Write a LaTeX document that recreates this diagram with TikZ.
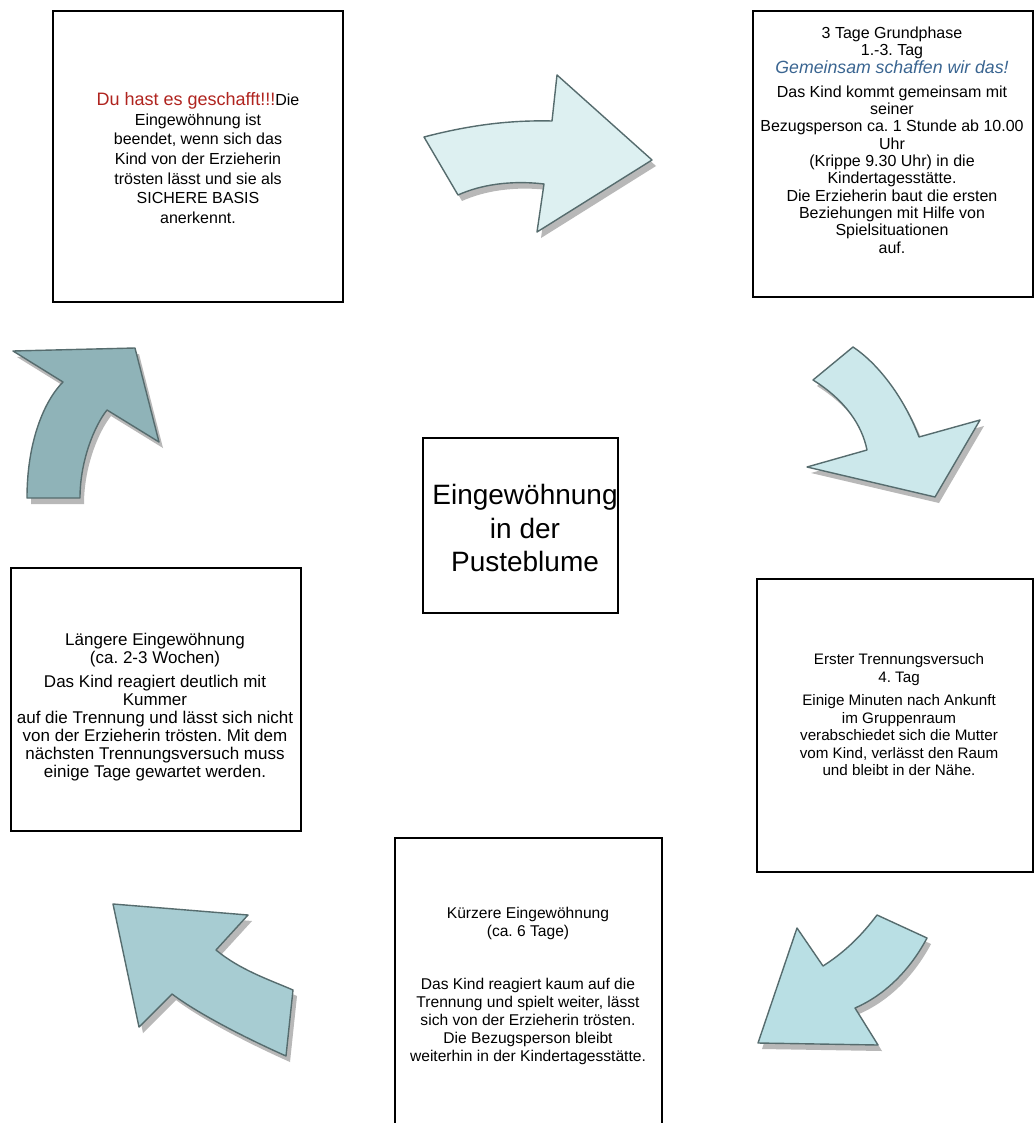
\documentclass[tikz,border=0pt]{standalone}
\usepackage{fontspec}
\setmainfont{Liberation Sans}
\usetikzlibrary{shadows}
\definecolor{darkred}{HTML}{B0241F}
\definecolor{accent}{HTML}{3A6591}
\definecolor{arrline}{HTML}{566C6E}
\definecolor{tintA}{HTML}{DDF0F1}
\definecolor{tintB}{HTML}{CCE8EB}
\definecolor{tintC}{HTML}{B9DFE4}
\definecolor{tintD}{HTML}{A7CCD2}
\definecolor{tintE}{HTML}{8FB3B8}
\frenchspacing

\begin{document}
\begin{tikzpicture}[x=1pt,y=-1pt,
  card/.style={draw=black,line width=1.2pt,fill=white,inner sep=0pt},
  txt/.style={align=center,inner sep=0pt},
  bigarrow/.style={draw=arrline,line width=1.4pt,line join=round,
    drop shadow={shadow xshift=4pt,shadow yshift=-6pt,fill=black!28,opacity=1}}]
  \useasboundingbox[fill=white] (0,0) rectangle (1034,1123);
  \node[card,minimum width=290pt,minimum height=291pt] (done) at (198,156.5) {};
  \node[card,minimum width=280pt,minimum height=286pt] (basis) at (893,154) {};
  \node[card,minimum width=195pt,minimum height=175pt] (title) at (520.5,525.5) {};
  \node[card,minimum width=290pt,minimum height=263pt] (longer) at (156,699.5) {};
  \node[card,minimum width=276pt,minimum height=293pt] (first) at (895,725.5) {};
  \node[card,minimum width=267pt,minimum height=302pt] (shorter) at (528.5,989) {};

  \node[txt,font=\fontsize{16}{19.6}\selectfont] (donetxt) at (198,158)
    {{\color{darkred}\fontsize{18}{19.6}\selectfont Du hast es geschafft!!!}Die\\Eingewöhnung ist\\beendet, wenn sich das\\Kind von der Erzieherin\\trösten lässt und sie als\\SICHERE BASIS\\anerkennt.};
  \node[txt,font=\fontsize{16}{17.3}\selectfont] (basistxt) at (892,140)
    {3 Tage Grundphase\\1.-3. Tag\\{\color{accent}\itshape\fontsize{17.7}{17.3}\selectfont Gemeinsam schaffen wir das!}\\[7pt]Das Kind kommt gemeinsam mit\\seiner\\Bezugsperson ca. 1 Stunde ab 10.00\\Uhr\\(Krippe 9.30 Uhr) in die\\Kindertagesstätte.\\Die Erzieherin baut die ersten\\Beziehungen mit Hilfe von\\Spielsituationen\\auf.};
  \node[txt,font=\fontsize{28}{33.5}\selectfont] (titletxt) at (525,528)
    {Eingewöhnung\\in der\\Pusteblume};
  \node[txt,font=\fontsize{17}{18}\selectfont] (longertxt) at (155,707)
    {Längere Eingewöhnung\\(ca. 2-3 Wochen)\\[6pt]Das Kind reagiert deutlich mit\\Kummer\\auf die Trennung und lässt sich nicht\\von der Erzieherin trösten. Mit dem\\nächsten Trennungsversuch muss\\einige Tage gewartet werden.};
  \node[txt,font=\fontsize{15.2}{17.5}\selectfont] (firsttxt) at (899,715)
    {Erster Trennungsversuch\\4. Tag\\[6pt]Einige Minuten nach Ankunft\\im Gruppenraum\\verabschiedet sich die Mutter\\vom Kind, verlässt den Raum\\und bleibt in der Nähe.};
  \node[txt,font=\fontsize{15.6}{18}\selectfont] (shortertxt) at (528,986)
    {Kürzere Eingewöhnung\\(ca. 6 Tage)\\[35pt]Das Kind reagiert kaum auf die\\Trennung und spielt weiter, lässt\\sich von der Erzieherin trösten.\\Die Bezugsperson bleibt\\weiterhin in der Kindertagesstätte.};

  % the six curved block arrows
  \filldraw[bigarrow,fill=tintA] (424,137) .. controls (470,125) and (510,120) .. (552,121)
    -- (557,75) -- (652,160) -- (537,232) -- (544,184)
    .. controls (510,180) and (480,185) .. (458,195) -- cycle;
  \filldraw[bigarrow,fill=tintB] (813,380) -- (853,347) .. controls (880,365) and (905,400) .. (919,437)
    -- (980,420) -- (935,497) -- (807,467) -- (867,450)
    .. controls (862,425) and (845,400) .. (813,380) -- cycle;
  \filldraw[bigarrow,fill=tintC] (877,915) -- (927,938) .. controls (910,970) and (885,995) .. (855,1008)
    -- (878,1045) -- (758,1043) -- (797,928) -- (823,966)
    .. controls (845,952) and (862,935) .. (877,915) -- cycle;
  \filldraw[bigarrow,fill=tintD] (113,904) -- (248,915) -- (216,950)
    .. controls (240,970) and (270,980) .. (293,990) -- (286,1056)
    .. controls (250,1040) and (200,1015) .. (172,994) -- (139,1027) -- cycle;
  \filldraw[bigarrow,fill=tintE] (13,351) -- (135,348) -- (159,442) -- (107,410)
    .. controls (95,425) and (80,460) .. (80,498) -- (27,498)
    .. controls (27,440) and (45,400) .. (63,382) -- cycle;
\end{tikzpicture}
\end{document}
